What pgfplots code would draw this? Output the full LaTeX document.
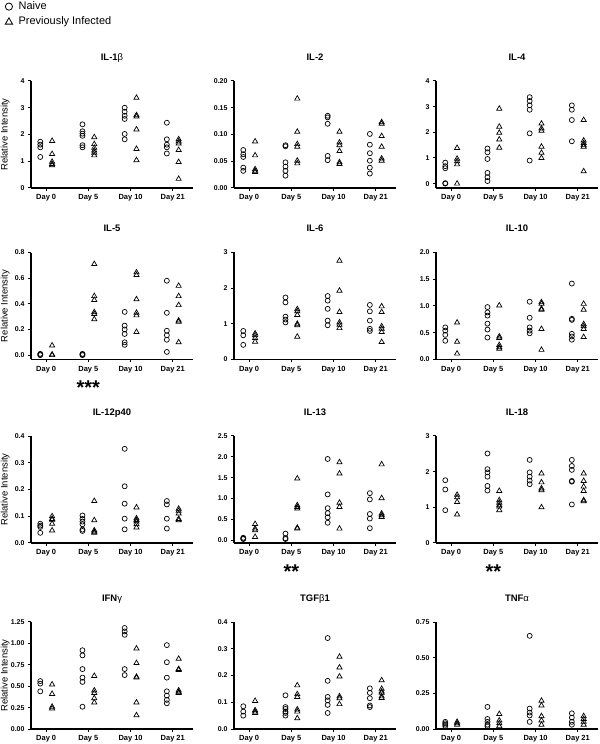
\documentclass[border=0pt]{standalone}
\usepackage{fontspec}
\setmainfont{Liberation Sans}
\usepackage{pgfplots}
\pgfplotsset{compat=1.18}

\pgfplotsset{
  panel/.style={
    scale only axis, width=162bp, height=107bp,
    anchor=south west,
    axis x line*=bottom, axis y line*=left,
    axis line style={-, line width=1.5bp},
    every outer x axis line/.append style={-},
    every outer y axis line/.append style={-},
    xmin=-0.36, xmax=3.48,
    xtick={0,1,2,3}, xticklabels={Day 0,Day 5,Day 10,Day 21},
    tick align=outside, major tick length=3bp,
    every tick/.style={black, line width=1bp},
    x tick label style={font=\fontsize{7.5}{8}\selectfont\bfseries},
    y tick label style={font=\fontsize{7}{8}\selectfont\bfseries},
    /pgf/number format/assume math mode=true,
    title style={font=\fontsize{9.5}{10}\selectfont\bfseries, at={(axis description cs:0.5,1)}, anchor=base, yshift=15bp},
    ylabel style={font=\fontsize{9.5}{10}\selectfont, at={(axis description cs:-0.16,0.5)}, anchor=center},
    clip=false,
  },
  dec1/.style={y tick label style={/pgf/number format/fixed, /pgf/number format/fixed zerofill, /pgf/number format/precision=1}},
  dec2/.style={y tick label style={/pgf/number format/fixed, /pgf/number format/fixed zerofill, /pgf/number format/precision=2}},
  naive/.style={only marks, mark=o, mark size=2.5bp, black, mark options={line width=0.7bp}, x filter/.expression={x-0.14},
    legend image code/.code={\path (0bp,0bp) (15bp,0bp); \draw[##1, mark size=3.6bp, mark options={line width=0.8bp}] plot coordinates {(7.5bp,0bp)};}},
  prev/.style={only marks, mark=triangle, mark size=3bp, black, mark options={line width=0.7bp}, x filter/.expression={x+0.14},
    legend image code/.code={\path (0bp,0bp) (15bp,0bp); \draw[##1, mark size=4.2bp, mark options={line width=0.8bp}] plot coordinates {(7.5bp,-0.5bp)};}},
}
\newcommand{\stars}[1]{\node[anchor=base, font=\fontsize{20}{20}\selectfont\bfseries] at (axis description cs:0.354,-0.33) {#1};}

\begin{document}
\begin{tikzpicture}
\useasboundingbox (0,0) rectangle (600bp,744bp);

% ---- row 1 ----
\begin{axis}[panel, at={(31bp,556bp)}, ymin=0, ymax=4, ytick={0,1,2,3,4},
  title={IL-1{\mdseries β}}, ylabel={Relative Intensity},
  legend style={at={(axis description cs:-0.185,1.76)}, anchor=north west, draw=none, fill=none,
    inner sep=0pt, font=\fontsize{11}{12}\selectfont, row sep=1.5bp, legend cell align=left}]
\addplot[naive] coordinates {(0,1.73)(0,1.62)(0,1.52)(0,1.16)
 (1,2.38)(1,2.12)(1,2.03)(1,1.95)(1,1.6)(1,1.52)
 (2,3.0)(2,2.85)(2,2.7)(2,2.58)(2,2.02)(2,1.82)
 (3,2.44)(3,1.82)(3,1.62)(3,1.52)(3,1.29)};
\addlegendentry{Naive}
\addplot[prev] coordinates {(0,1.76)(0,1.27)(0,0.98)(0,0.9)(0,0.85)
 (1,1.9)(1,1.64)(1,1.5)(1,1.4)(1,1.32)(1,1.22)
 (2,3.37)(2,2.72)(2,2.67)(2,2.19)(2,1.46)(2,1.04)
 (3,1.82)(3,1.74)(3,1.66)(3,1.42)(3,0.97)(3,0.34)};
\addlegendentry{Previously Infected}
\end{axis}

\begin{axis}[panel, dec2, at={(234bp,556bp)}, ymin=0, ymax=0.2, ytick={0,0.05,0.1,0.15,0.2},
  title={IL-2}]
\addplot[naive] coordinates {(0,0.071)(0,0.063)(0,0.058)(0,0.038)(0,0.032)
 (1,0.08)(1,0.078)(1,0.048)(1,0.04)(1,0.032)(1,0.023)
 (2,0.135)(2,0.132)(2,0.12)(2,0.06)(2,0.052)
 (3,0.101)(3,0.081)(3,0.065)(3,0.051)(3,0.038)(3,0.027)};
\addplot[prev] coordinates {(0,0.087)(0,0.061)(0,0.035)(0,0.032)(0,0.03)
 (1,0.167)(1,0.105)(1,0.082)(1,0.077)(1,0.051)(1,0.046)
 (2,0.105)(2,0.085)(2,0.08)(2,0.069)(2,0.048)(2,0.045)
 (3,0.123)(3,0.12)(3,0.097)(3,0.077)(3,0.055)(3,0.051)};
\end{axis}

\begin{axis}[panel, at={(436bp,556bp)}, ymin=-0.17, ymax=4, ytick={0,1,2,3,4},
  title={IL-4}]
\addplot[naive] coordinates {(0,0.82)(0,0.68)(0,0.6)(0,0.02)(0,0.0)
 (1,1.37)(1,1.22)(1,0.96)(1,0.42)(1,0.25)(1,0.1)
 (2,3.37)(2,3.22)(2,3.05)(2,2.88)(2,1.96)(2,0.9)
 (3,3.05)(3,2.88)(3,2.48)(3,1.65)};
\addplot[prev] coordinates {(0,1.39)(0,0.97)(0,0.87)(0,0.75)(0,0.0)
 (1,2.92)(1,2.22)(1,1.98)(1,1.72)(1,1.4)
 (2,2.34)(2,2.15)(2,2.06)(2,1.44)(2,1.2)(2,1.0)
 (3,2.48)(3,1.68)(3,1.58)(3,1.5)(3,1.44)(3,0.48)};
\end{axis}

% ---- row 2 ----
\begin{axis}[panel, dec1, at={(31bp,384.5bp)}, ymin=-0.034, ymax=0.8, ytick={0,0.2,0.4,0.6,0.8},
  title={IL-5}, ylabel={Relative Intensity}]
\addplot[naive] coordinates {(0,0.01)(0,0.005)(0,0.0)
 (1,0.01)(1,0.005)(1,0.0)
 (2,0.337)(2,0.23)(2,0.2)(2,0.165)(2,0.1)(2,0.08)
 (3,0.58)(3,0.33)(3,0.19)(3,0.155)(3,0.12)(3,0.025)};
\addplot[prev] coordinates {(0,0.075)(0,0.005)(0,0.0)
 (1,0.71)(1,0.46)(1,0.43)(1,0.335)(1,0.32)(1,0.28)
 (2,0.645)(2,0.625)(2,0.435)(2,0.33)(2,0.31)(2,0.18)
 (3,0.54)(3,0.46)(3,0.39)(3,0.27)(3,0.26)(3,0.1)};
\stars{***}
\end{axis}

\begin{axis}[panel, at={(234bp,384.5bp)}, ymin=0, ymax=3, ytick={0,1,2,3},
  title={IL-6}]
\addplot[naive] coordinates {(0,0.8)(0,0.68)(0,0.41)
 (1,1.74)(1,1.6)(1,1.2)(1,1.12)(1,1.04)
 (2,1.78)(2,1.65)(2,1.42)(2,1.09)(2,0.96)
 (3,1.53)(3,1.35)(3,1.09)(3,0.86)(3,0.8)};
\addplot[prev] coordinates {(0,0.73)(0,0.68)(0,0.6)(0,0.5)
 (1,1.41)(1,1.35)(1,1.25)(1,1.0)(1,0.96)(1,0.64)
 (2,2.77)(2,1.93)(2,1.33)(2,1.04)(2,0.97)(2,0.88)
 (3,1.49)(3,1.33)(3,0.93)(3,0.86)(3,0.77)(3,0.49)};
\end{axis}

\begin{axis}[panel, dec1, at={(436bp,384.5bp)}, ymin=0, ymax=2, ytick={0,0.5,1,1.5,2},
  title={IL-10}]
\addplot[naive] coordinates {(0,0.6)(0,0.54)(0,0.46)(0,0.35)
 (1,0.98)(1,0.88)(1,0.82)(1,0.67)(1,0.56)(1,0.41)
 (2,1.08)(2,0.78)(2,0.6)(2,0.54)(2,0.49)
 (3,1.42)(3,0.76)(3,0.74)(3,0.48)(3,0.43)(3,0.37)};
\addplot[prev] coordinates {(0,0.69)(0,0.33)(0,0.11)
 (1,1.01)(1,0.43)(1,0.4)(1,0.27)(1,0.23)(1,0.2)
 (2,1.07)(2,1.04)(2,0.95)(2,0.93)(2,0.57)(2,0.18)
 (3,1.04)(3,0.93)(3,0.66)(3,0.62)(3,0.57)(3,0.42)};
\end{axis}

% ---- row 3 ----
\begin{axis}[panel, dec1, at={(31bp,201bp)}, ymin=0, ymax=0.4, ytick={0,0.1,0.2,0.3,0.4},
  title={IL-12p40}, ylabel={Relative Intensity}]
\addplot[naive] coordinates {(0,0.072)(0,0.065)(0,0.06)(0,0.038)
 (1,0.103)(1,0.09)(1,0.08)(1,0.07)(1,0.05)(1,0.045)
 (2,0.352)(2,0.212)(2,0.147)(2,0.091)(2,0.051)
 (3,0.157)(3,0.144)(3,0.091)(3,0.054)};
\addplot[prev] coordinates {(0,0.1)(0,0.09)(0,0.087)(0,0.072)(0,0.047)
 (1,0.157)(1,0.085)(1,0.047)(1,0.042)(1,0.038)
 (2,0.133)(2,0.092)(2,0.086)(2,0.08)(2,0.07)(2,0.058)
 (3,0.128)(3,0.12)(3,0.11)(3,0.09)(3,0.085)};
\end{axis}

\begin{axis}[panel, dec1, at={(234bp,201bp)}, ymin=-0.065, ymax=2.5, ytick={0,0.5,1,1.5,2,2.5},
  title={IL-13}]
\addplot[naive] coordinates {(0,0.06)(0,0.04)(0,0.03)
 (1,0.16)(1,0.05)(1,0.03)
 (2,1.95)(2,1.1)(2,0.77)(2,0.65)(2,0.55)(2,0.42)
 (3,1.13)(3,0.98)(3,0.63)(3,0.52)(3,0.29)};
\addplot[prev] coordinates {(0,0.39)(0,0.28)(0,0.24)(0,0.08)
 (1,1.48)(1,0.84)(1,0.8)(1,0.76)(1,0.3)(1,0.28)
 (2,1.87)(2,1.6)(2,0.9)(2,0.8)(2,0.28)
 (3,1.82)(3,1.01)(3,0.64)(3,0.6)(3,0.56)};
\stars{**}
\end{axis}

\begin{axis}[panel, at={(436bp,201bp)}, ymin=0, ymax=3, ytick={0,1,2,3},
  title={IL-18}]
\addplot[naive] coordinates {(0,1.76)(0,1.5)(0,0.92)
 (1,2.51)(1,2.07)(1,1.98)(1,1.86)(1,1.6)(1,1.47)
 (2,2.33)(2,1.98)(2,1.86)(2,1.75)(2,1.65)
 (3,2.33)(3,2.16)(3,2.05)(3,1.74)(3,1.72)(3,1.08)};
\addplot[prev] coordinates {(0,1.35)(0,1.28)(0,1.15)(0,0.8)
 (1,1.46)(1,1.2)(1,1.13)(1,1.06)(1,1.02)(1,0.92)
 (2,1.95)(2,1.7)(2,1.53)(2,1.48)(2,1.0)
 (3,1.95)(3,1.74)(3,1.58)(3,1.46)(3,1.2)(3,1.17)};
\stars{**}
\end{axis}

% ---- row 4 ----
\begin{axis}[panel, dec2, at={(31bp,15bp)}, ymin=0, ymax=1.25, ytick={0,0.25,0.5,0.75,1,1.25},
  title={IFN{\mdseries γ}}, ylabel={Relative Intensity}]
\addplot[naive] coordinates {(0,0.56)(0,0.53)(0,0.44)
 (1,0.92)(1,0.86)(1,0.7)(1,0.6)(1,0.55)(1,0.26)
 (2,1.18)(2,1.14)(2,1.1)(2,0.7)(2,0.63)
 (3,0.98)(3,0.78)(3,0.6)(3,0.44)(3,0.39)(3,0.34)(3,0.3)};
\addplot[prev] coordinates {(0,0.52)(0,0.41)(0,0.26)(0,0.24)
 (1,0.62)(1,0.45)(1,0.42)(1,0.36)(1,0.31)
 (2,0.94)(2,0.77)(2,0.61)(2,0.6)(2,0.31)(2,0.16)
 (3,0.82)(3,0.7)(3,0.69)(3,0.45)(3,0.43)(3,0.42)};
\end{axis}

\begin{axis}[panel, dec1, at={(234bp,15bp)}, ymin=0, ymax=0.4, ytick={0,0.1,0.2,0.3,0.4},
  title={TGF{\mdseries β}1}]
\addplot[naive] coordinates {(0,0.085)(0,0.065)(0,0.05)
 (1,0.126)(1,0.082)(1,0.075)(1,0.065)(1,0.06)(1,0.05)
 (2,0.34)(2,0.18)(2,0.12)(2,0.107)(2,0.09)(2,0.06)
 (3,0.152)(3,0.135)(3,0.115)(3,0.088)(3,0.082)};
\addplot[prev] coordinates {(0,0.105)(0,0.07)(0,0.065)(0,0.06)
 (1,0.163)(1,0.13)(1,0.12)(1,0.073)(1,0.065)(1,0.04)
 (2,0.27)(2,0.23)(2,0.196)(2,0.122)(2,0.115)(2,0.093)
 (3,0.182)(3,0.15)(3,0.14)(3,0.135)(3,0.122)(3,0.116)};
\end{axis}

\begin{axis}[panel, dec2, at={(436bp,15bp)}, ymin=0, ymax=0.75, ytick={0,0.25,0.5,0.75},
  title={TNF{\mdseries α}}]
\addplot[naive] coordinates {(0,0.05)(0,0.04)(0,0.03)(0,0.02)
 (1,0.155)(1,0.07)(1,0.05)(1,0.03)(1,0.02)
 (2,0.653)(2,0.143)(2,0.115)(2,0.095)(2,0.05)
 (3,0.11)(3,0.08)(3,0.05)(3,0.03)};
\addplot[prev] coordinates {(0,0.05)(0,0.04)(0,0.03)
 (1,0.105)(1,0.06)(1,0.04)(1,0.02)
 (2,0.198)(2,0.165)(2,0.09)(2,0.06)(2,0.03)
 (3,0.09)(3,0.07)(3,0.05)(3,0.03)};
\end{axis}
\end{tikzpicture}
\end{document}
